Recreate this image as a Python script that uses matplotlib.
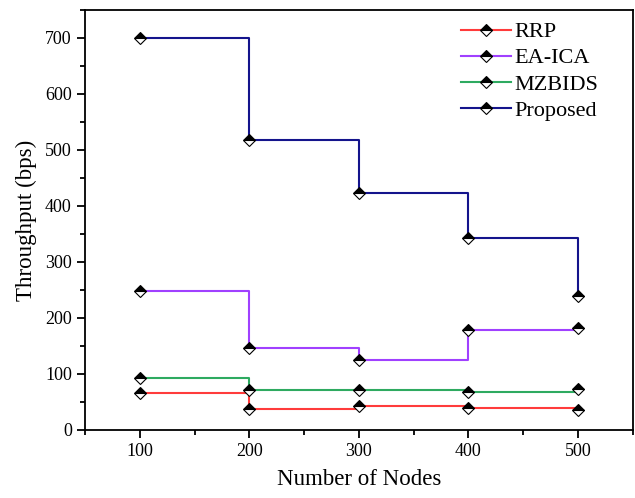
import matplotlib
matplotlib.use("Agg")
import matplotlib.pyplot as plt
from matplotlib.ticker import MultipleLocator

nodes = [100, 200, 300, 400, 500]
rrp = [66, 38, 43, 39, 35]
ea_ica = [249, 146, 125, 178, 183]
mzbids = [93, 71, 72, 68, 73]
proposed = [700, 518, 424, 343, 240]

series = [
    ("RRP", rrp, "#ff3b3b"),
    ("EA-ICA", ea_ica, "#a040ff"),
    ("MZBIDS", mzbids, "#2eaa60"),
    ("Proposed", proposed, "#14148c"),
]

plt.rcParams['font.family'] = ['Liberation Serif', 'DejaVu Serif']

fig = plt.figure(figsize=(6.35, 4.98), dpi=100)
ax = fig.add_axes([85/635, 1 - 430/498, (632.5-85)/635, (430-10)/498])

for name, vals, col in series:
    ax.plot(nodes, vals, drawstyle='steps-post', color=col, lw=1.5,
            marker='D', markersize=5.8, fillstyle='top',
            markerfacecolor='black', markerfacecoloralt='white',
            markeredgecolor='black', markeredgewidth=0.8, label=name)

ax.set_xlim(50, 550)
ax.set_ylim(0, 750)
ax.xaxis.set_major_locator(MultipleLocator(100))
ax.xaxis.set_minor_locator(MultipleLocator(50))
ax.yaxis.set_major_locator(MultipleLocator(100))
ax.yaxis.set_minor_locator(MultipleLocator(50))
ax.set_yticks(range(0, 701, 100))
ax.tick_params(which='major', direction='out', length=6, width=1.3, labelsize=13)
ax.tick_params(which='minor', direction='out', length=3.5, width=1.3)
for s in ax.spines.values():
    s.set_linewidth(1.3)

ax.set_xlabel("Number of Nodes", fontsize=16.5, labelpad=6)
ax.set_ylabel("Throughput (bps)", fontsize=16.5, labelpad=6)

ax.legend(loc='upper left', frameon=False, fontsize=16, handlelength=2.25,
          handletextpad=0.15, labelspacing=0.25, borderaxespad=0,
          bbox_to_anchor=(0.670, 0.993))

fig.savefig("out.png", dpi=100)
